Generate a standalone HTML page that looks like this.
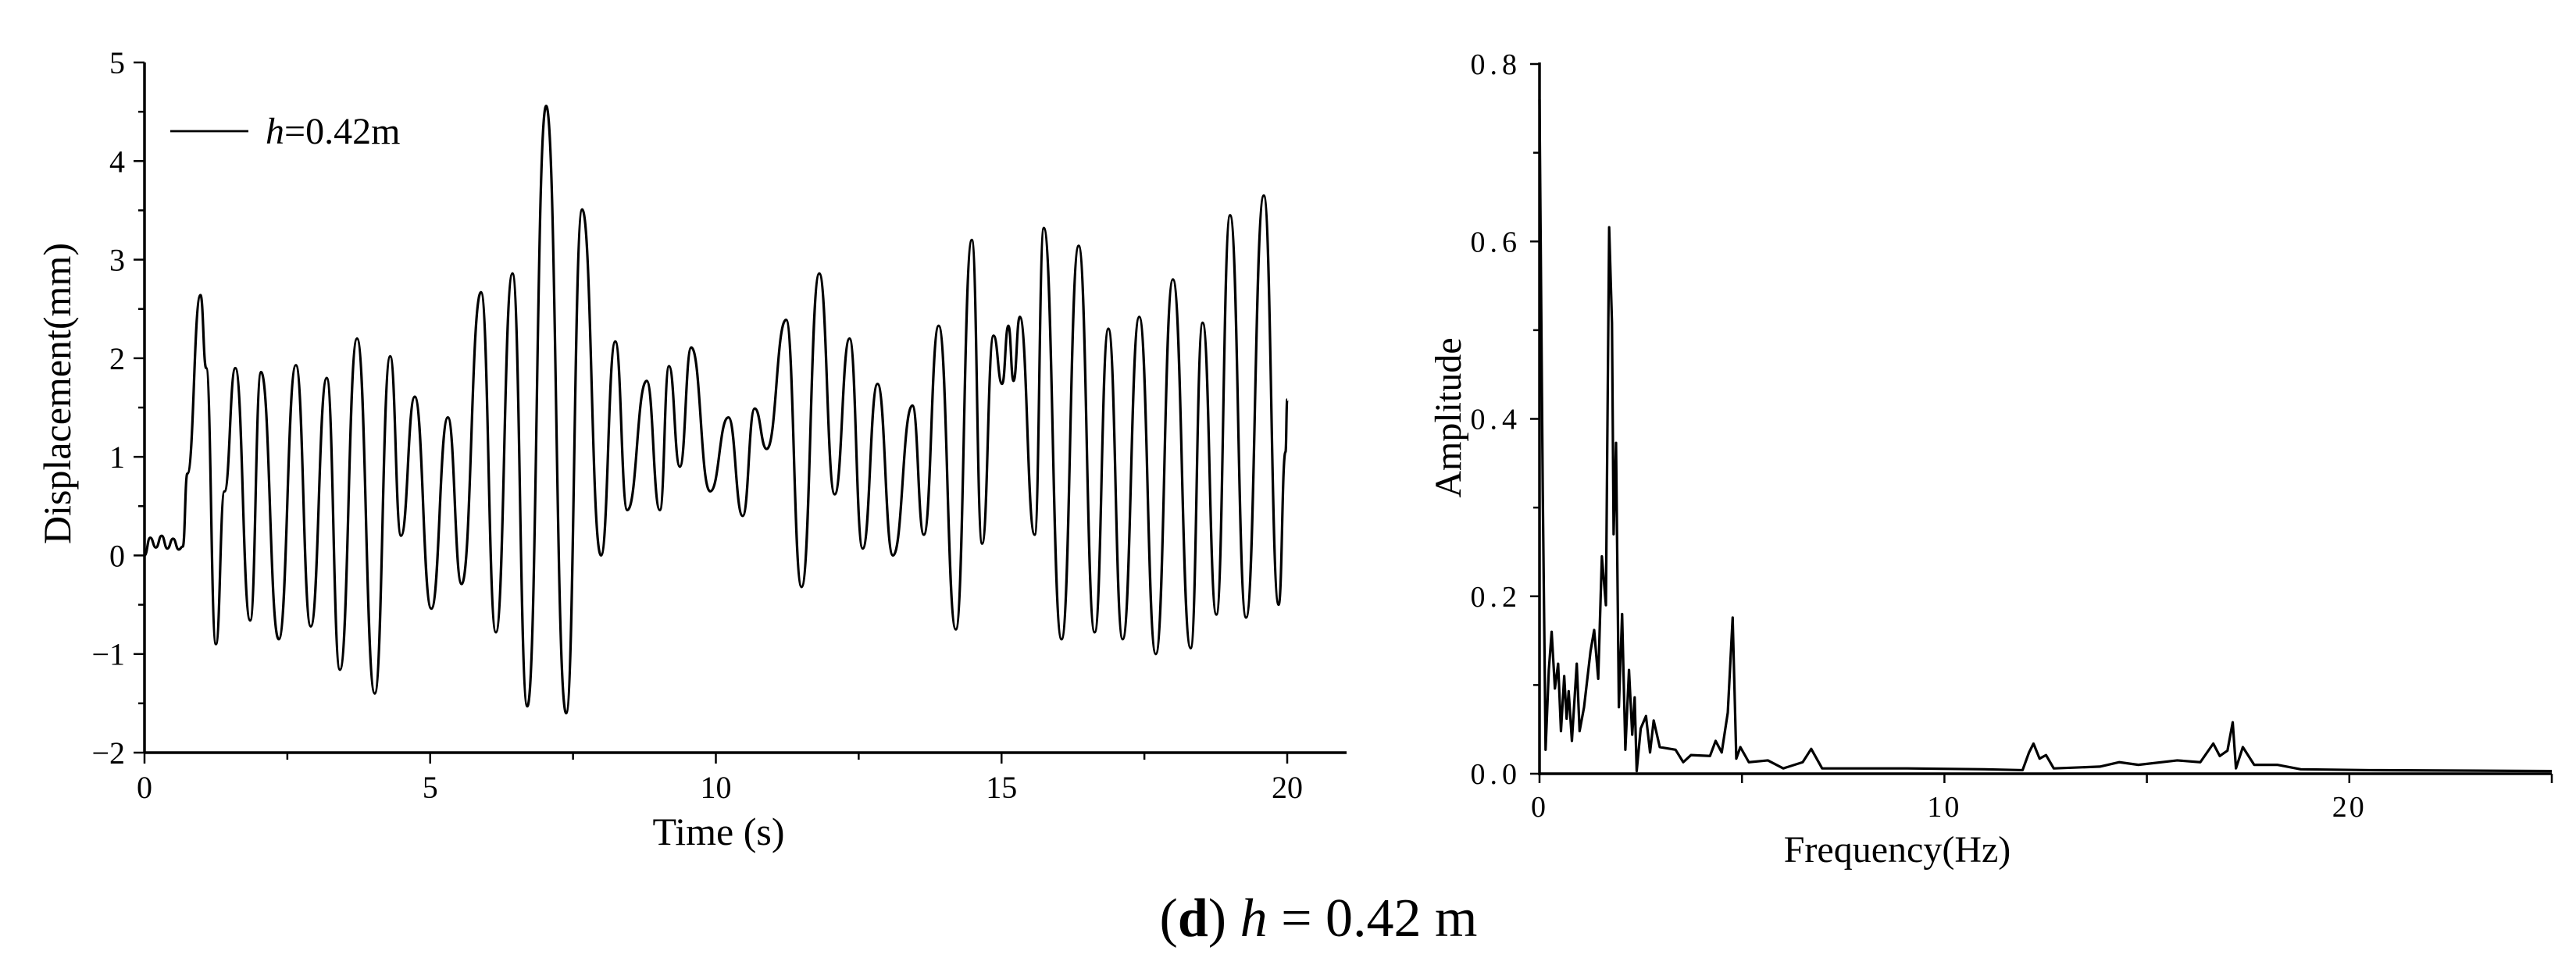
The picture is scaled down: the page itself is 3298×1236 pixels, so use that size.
<!DOCTYPE html>
<html><head><meta charset="utf-8"><style>
html,body{margin:0;padding:0;background:#fff;}
svg{display:block;}
text{font-family:"Liberation Serif",serif;fill:#000;}
</style></head><body>
<svg id="fig" width="3298" height="1236" viewBox="0 0 3298 1236" xmlns="http://www.w3.org/2000/svg">
<g id="left"></g>
<g id="right"></g>
<text x="1688" y="1199" font-size="70" text-anchor="middle">(<tspan font-weight="bold">d</tspan>) <tspan font-style="italic">h</tspan> = 0.42 m</text>
</svg>
<script>
// Left chart data: time series extrema (s, mm)
const dispTime = [0,0.1,0.2,0.3,0.4,0.5,0.6,0.67,0.75,0.98,1.08,1.25,1.4,1.59,1.85,2.04,2.35,2.65,2.91,3.19,3.42,3.72,4.03,4.3,4.49,4.73,5.02,5.31,5.55,5.89,6.15,6.44,6.7,7.03,7.38,7.66,7.99,8.24,8.45,8.79,9.02,9.18,9.37,9.57,9.9,10.22,10.47,10.68,10.89,11.23,11.5,11.81,12.08,12.34,12.57,12.83,13.1,13.44,13.64,13.9,14.2,14.48,14.66,14.86,15.01,15.12,15.21,15.32,15.58,15.74,16.05,16.35,16.63,16.87,17.12,17.41,17.7,18.0,18.31,18.52,18.76,19.0,19.28,19.59,19.85,19.97,20];
const dispValue = [0,0.18,0.08,0.2,0.07,0.17,0.06,0.09,0.83,2.64,1.9,-0.9,0.65,1.9,-0.66,1.86,-0.85,1.93,-0.72,1.8,-1.16,2.2,-1.4,2.02,0.2,1.61,-0.54,1.4,-0.29,2.67,-0.78,2.86,-1.53,4.56,-1.6,3.51,0,2.17,0.46,1.77,0.46,1.92,0.9,2.11,0.65,1.4,0.4,1.49,1.08,2.39,-0.32,2.86,0.62,2.2,0.07,1.74,0,1.52,0.21,2.33,-0.75,3.2,0.12,2.23,1.74,2.33,1.77,2.42,0.21,3.32,-0.85,3.14,-0.78,2.3,-0.85,2.42,-1.0,2.8,-0.94,2.36,-0.6,3.45,-0.63,3.65,-0.5,1.05,1.58];
const dispYTicks = [-2,-1,0,1,2,3,4,5];
const dispXTicks = [0,5,10,15,20];
// Right chart data: FFT amplitude
const freq = [0,0.08,0.15,0.23,0.3,0.38,0.46,0.53,0.61,0.67,0.72,0.8,0.92,0.99,1.1,1.26,1.35,1.45,1.54,1.64,1.72,1.79,1.83,1.89,1.96,2.04,2.12,2.21,2.29,2.35,2.4,2.5,2.63,2.73,2.82,2.97,3.36,3.55,3.74,4.21,4.35,4.5,4.65,4.77,4.86,4.96,5.17,5.64,6.02,6.5,6.71,6.98,7.55,9.08,10.98,11.93,12.09,12.2,12.35,12.51,12.7,13.84,14.32,14.79,15.75,16.32,16.64,16.8,16.99,17.12,17.2,17.37,17.65,18.23,18.8,20.5,25];
const amp = [0.76,0.32,0.027,0.117,0.16,0.096,0.124,0.048,0.11,0.062,0.093,0.037,0.124,0.048,0.075,0.138,0.162,0.107,0.245,0.19,0.616,0.508,0.27,0.373,0.075,0.18,0.027,0.117,0.044,0.086,0.003,0.051,0.065,0.024,0.06,0.03,0.027,0.013,0.021,0.02,0.037,0.024,0.069,0.176,0.017,0.03,0.013,0.015,0.006,0.013,0.028,0.006,0.006,0.006,0.005,0.004,0.024,0.034,0.017,0.021,0.006,0.008,0.013,0.01,0.015,0.013,0.034,0.02,0.026,0.058,0.006,0.03,0.01,0.01,0.005,0.004,0.003];
const ampYTicks = ["0.0","0.2","0.4","0.6","0.8"];
const freqXTicks = [0,10,20];

const NS="http://www.w3.org/2000/svg";
function mk(parent,tag,attrs){const e=document.createElementNS(NS,tag);for(const k in attrs)e.setAttribute(k,attrs[k]);parent.appendChild(e);return e;}

// ---- Left chart ----
const L=document.getElementById('left');
const lx=t=>185+(t-0)/20*(1648-185);
const ly=v=>80+(5-v)/7*(964-80);
let e;
e=mk(L,'line',{x1:185,y1:80,x2:185,y2:964,stroke:'#000','stroke-width':3.5});


e=mk(L,'line',{x1:185,y1:964,x2:1724,y2:964,stroke:'#000','stroke-width':3.5});


for(let v=-2;v<=5.001;v+=0.5){const maj=Math.abs(v-Math.round(v))<1e-6;
  e=mk(L,'line',{x1:185-(maj?14:8),y1:ly(v),x2:185,y2:ly(v),stroke:'#000','stroke-width':2.5});
  
  }
dispYTicks.forEach(v=>{e=mk(L,'text',{x:160,y:ly(v)+14,'font-size':40,'text-anchor':'end'});e.textContent=(v<0?'\u2212'+(-v):v);
  
  });
for(let t=0;t<=20.001;t+=2.5){const maj=t%5===0;
  e=mk(L,'line',{x1:lx(t),y1:964,x2:lx(t),y2:964+(maj?14:9),stroke:'#000','stroke-width':2.5});
  
  }
dispXTicks.forEach(t=>{e=mk(L,'text',{x:lx(t),y:1022,'font-size':40,'text-anchor':'middle'});e.textContent=t;
  
  });
e=mk(L,'text',{x:920,y:1082,'font-size':50,'text-anchor':'middle'});e.textContent='Time (s)';


e=mk(L,'text',{x:0,y:0,'font-size':50,'text-anchor':'middle',transform:'translate(90,504) rotate(-90)'});e.textContent='Displacement(mm)';


let d='M'+lx(dispTime[0])+','+ly(dispValue[0]);
for(let i=1;i<dispTime.length;i++){const x0=lx(dispTime[i-1]),y0=ly(dispValue[i-1]),x1=lx(dispTime[i]),y1=ly(dispValue[i]);const h=(x1-x0)/2;
  d+=' C'+(x0+h)+','+y0+' '+(x1-h)+','+y1+' '+x1+','+y1;}
e=mk(L,'path',{d:d,fill:'none',stroke:'#000','stroke-width':3.2,'stroke-linejoin':'round'});


e=mk(L,'line',{x1:218,y1:168,x2:318,y2:168,stroke:'#000','stroke-width':2.8});


e=mk(L,'text',{x:340,y:184,'font-size':48});e.innerHTML='<tspan font-style="italic">h</tspan>=0.42m';



// ---- Right chart ----
const R=document.getElementById('right');
const rx=f=>1971+f/25*(3267-1971);
const ry=a=>991-a/0.8*(991-82);
e=mk(R,'line',{x1:1971,y1:80,x2:1971,y2:993,stroke:'#000','stroke-width':3.5});


e=mk(R,'line',{x1:1971,y1:991,x2:3267,y2:991,stroke:'#000','stroke-width':3.5});


for(let i=0;i<=8;i++){const a=i/10;const maj=i%2===0;
  e=mk(R,'line',{x1:1971-(maj?12:8),y1:ry(a),x2:1971,y2:ry(a),stroke:'#000','stroke-width':2.5});
  
  }
ampYTicks.forEach(s=>{e=mk(R,'text',{x:1948,y:ry(parseFloat(s))+13,'font-size':38,'text-anchor':'end','letter-spacing':'6'});e.textContent=s;
  
  });
for(let f=0;f<=25;f+=5){
  e=mk(R,'line',{x1:rx(f),y1:991,x2:rx(f),y2:1003,stroke:'#000','stroke-width':2.5});
  
  }
freqXTicks.forEach(f=>{e=mk(R,'text',{x:rx(f),y:1046,'font-size':38,'text-anchor':'middle','letter-spacing':'3'});e.textContent=f;
  
  });
e=mk(R,'text',{x:2429,y:1104,'font-size':48,'text-anchor':'middle'});e.textContent='Frequency(Hz)';


e=mk(R,'text',{x:0,y:0,'font-size':48,'text-anchor':'middle',transform:'translate(1870,535) rotate(-90)'});e.textContent='Amplitude';


let pd='';
for(let i=0;i<freq.length;i++){pd+=(i?' L':'M')+rx(freq[i])+','+ry(amp[i]);}
e=mk(R,'path',{d:pd,fill:'none',stroke:'#000','stroke-width':3.2,'stroke-linejoin':'round'});


</script>
</body></html>
